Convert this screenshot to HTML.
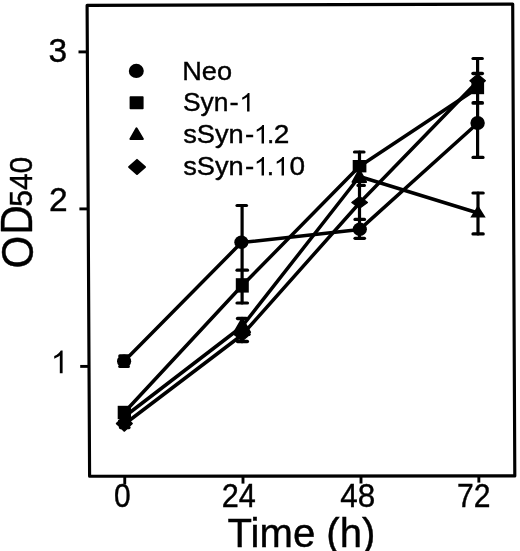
<!DOCTYPE html>
<html><head><meta charset="utf-8">
<style>
html,body{margin:0;padding:0;background:#fff;}
svg{display:block;will-change:transform;}
text{font-family:"Liberation Sans",sans-serif;fill:#000;stroke:#000;stroke-width:0.4px;}
</style></head>
<body>
<svg width="520" height="551" viewBox="0 0 520 551">
<rect width="520" height="551" fill="#fff"/>
<!-- frame -->
<polygon points="87.1,5.4 512.7,4.1 514.8,475.9 89.6,476.2" fill="none" stroke="#000" stroke-width="3.15" stroke-linejoin="round"/>
<!-- ticks -->
<g stroke="#000" stroke-width="2.9">
<line x1="78.5" y1="51.9" x2="87" y2="51.9"/>
<line x1="79.4" y1="208.9" x2="88" y2="208.9"/>
<line x1="80.2" y1="366.4" x2="89" y2="366.4"/>
<line x1="124.75" y1="476" x2="124.75" y2="484.3"/>
<line x1="243" y1="476" x2="243" y2="483.6"/>
<line x1="361" y1="476" x2="361" y2="483.5"/>
<line x1="478.85" y1="476" x2="478.85" y2="482.6"/>
</g>
<!-- tick labels -->
<g font-size="33.5" text-anchor="middle">
<text x="57.7" y="61.8">3</text>
<text x="58.3" y="210.7">2</text>
</g>
<g font-size="33" text-anchor="middle">
<text x="122.4" y="507.4" textLength="16.7" lengthAdjust="spacingAndGlyphs">0</text>
<text x="238.8" y="507.1" textLength="34.1" lengthAdjust="spacingAndGlyphs">24</text>
<text x="357.8" y="506.8" textLength="35" lengthAdjust="spacingAndGlyphs">48</text>
<text x="473.8" y="507" textLength="33.5" lengthAdjust="spacingAndGlyphs">72</text>
</g>
<!-- axis titles -->
<text x="301.5" y="546.8" font-size="41" text-anchor="middle" textLength="147.8" lengthAdjust="spacingAndGlyphs">Time (h)</text>
<text transform="translate(32.6,268.6) rotate(-90) scale(0.96,1)" font-size="44">O</text>
<text transform="translate(32.4,234.6) rotate(-90) scale(0.93,1)" font-size="43.5">D</text>
<text transform="translate(31.5,206.8) rotate(-90) scale(0.985,1)" font-size="30.5">540</text>
<path id="one-y" transform="translate(50.78,373.2) scale(0.01549,-0.01549)" d="M763 0H583V1147Q518 1085 412.500 1023Q307 961 223 930V1104Q374 1175 487 1276Q600 1377 647 1472H763Z"/>
<!-- legend -->
<ellipse cx="136.3" cy="70.9" rx="7.5" ry="7.1"/>
<rect x="129.6" y="96.3" width="14" height="12.9" rx="0.8"/>
<polygon points="136.5,128.3 142.9,138.9 130.4,138.9" stroke="#000" stroke-width="2" stroke-linejoin="round"/>
<polygon points="137,159.9 145,167 137,174 129.1,167" stroke="#000" stroke-width="2" stroke-linejoin="round"/>
<g font-size="26.3">
<text x="182.2" y="79.7" textLength="49.8" lengthAdjust="spacingAndGlyphs">Neo</text>
<text x="182.9" y="111.4" textLength="45.5" lengthAdjust="spacingAndGlyphs">Syn</text>
<text x="229.6" y="111.4" textLength="9.2" lengthAdjust="spacingAndGlyphs">-</text>
<text x="183.2" y="143.4" textLength="60.5" lengthAdjust="spacingAndGlyphs">sSyn</text>
<text x="245.1" y="143.4" textLength="9.2" lengthAdjust="spacingAndGlyphs">-</text>
<text x="267" y="143.4">.</text>
<text x="273.8" y="143.4" textLength="15.6" lengthAdjust="spacingAndGlyphs">2</text>
<text x="183.2" y="175.4" textLength="60.5" lengthAdjust="spacingAndGlyphs">sSyn</text>
<text x="245.1" y="175.4" textLength="9.2" lengthAdjust="spacingAndGlyphs">-</text>
<text x="266.8" y="175.4">.</text>
<text x="289.6" y="175.4" textLength="15.6" lengthAdjust="spacingAndGlyphs">0</text>
</g>
<path transform="translate(239.20,111.4) scale(0.0135,-0.01257)" d="M763 0H583V1147Q518 1085 412.500 1023Q307 961 223 930V1104Q374 1175 487 1276Q600 1377 647 1472H763Z"/>
<path transform="translate(253.70,143.4) scale(0.0135,-0.01257)" d="M763 0H583V1147Q518 1085 412.500 1023Q307 961 223 930V1104Q374 1175 487 1276Q600 1377 647 1472H763Z"/>
<path transform="translate(253.70,175.4) scale(0.0135,-0.01257)" d="M763 0H583V1147Q518 1085 412.500 1023Q307 961 223 930V1104Q374 1175 487 1276Q600 1377 647 1472H763Z"/>
<path transform="translate(273.70,175.4) scale(0.0135,-0.01257)" d="M763 0H583V1147Q518 1085 412.500 1023Q307 961 223 930V1104Q374 1175 487 1276Q600 1377 647 1472H763Z"/>
<!-- series lines -->
<g fill="none" stroke="#000" stroke-width="3.5" stroke-linejoin="round">
<polyline points="124.1,361.2 241.4,242.6 359.8,229.4 477.6,123.3"/>
<polyline points="124,412.7 242.2,285.5 359.3,166.5 478,87.8"/>
<polyline points="124,417 242,326.5 359.5,176.5 478,213"/>
<polyline points="124,424.5 242,335 359.5,203 478,81"/>
</g>
<!-- error bars -->
<g stroke="#000" stroke-width="3.2" stroke-linecap="round">
<!-- x=0 -->
<line x1="119.8" y1="355.9" x2="128.3" y2="355.9"/>
<line x1="119.8" y1="366.5" x2="128.3" y2="366.5"/>
<line x1="119.5" y1="421" x2="129.5" y2="421"/>
<line x1="120.5" y1="427.6" x2="129" y2="427.6"/>
<!-- x=24 -->
<line x1="242.1" y1="205.5" x2="242.1" y2="303"/>
<line x1="237" y1="205.5" x2="246.5" y2="205.5"/>
<line x1="237" y1="270.2" x2="247.5" y2="270.2"/>
<line x1="237" y1="303" x2="247.5" y2="303"/>
<line x1="242" y1="318.3" x2="242" y2="341.7"/>
<line x1="237.6" y1="318.5" x2="246.3" y2="318.5" stroke-width="3.6"/>
<line x1="237.6" y1="341.5" x2="247.3" y2="341.5" stroke-width="3.6"/>
<line x1="236" y1="334.4" x2="249" y2="334.4"/>
<!-- x=48 -->
<line x1="359.5" y1="152" x2="359.5" y2="238.3"/>
<line x1="354.5" y1="152" x2="364" y2="152"/>
<line x1="358" y1="185.4" x2="364.3" y2="185.4"/>
<line x1="355" y1="219.4" x2="364.5" y2="219.4"/>
<line x1="355" y1="238.3" x2="364.5" y2="238.3"/>
<!-- x=72 -->
<line x1="477.6" y1="58.5" x2="477.6" y2="157.4"/>
<line x1="473" y1="58.5" x2="482.3" y2="58.5"/>
<line x1="473" y1="73.6" x2="482.3" y2="73.6" stroke-width="3.5"/>
<line x1="473.3" y1="102.9" x2="482.2" y2="102.9" stroke-width="3.8"/>
<line x1="473" y1="157.4" x2="483" y2="157.4"/>
<line x1="478" y1="193" x2="478" y2="233.9"/>
<line x1="473" y1="193" x2="483.2" y2="193"/>
<line x1="473" y1="233.9" x2="483.2" y2="233.9"/>
</g>
<!-- markers -->
<!-- Neo circles -->
<ellipse cx="124.1" cy="361.2" rx="7.1" ry="6.8"/>
<ellipse cx="241.4" cy="242.2" rx="7.1" ry="6.8"/>
<ellipse cx="359.8" cy="229.2" rx="7.1" ry="6.8"/>
<ellipse cx="477.6" cy="123" rx="7.2" ry="7"/>
<!-- Syn-1 squares -->
<rect x="117.7" y="405.8" width="13.3" height="13.4"/>
<rect x="235.8" y="278.2" width="13" height="14.4"/>
<rect x="352.7" y="160" width="13.7" height="12.4"/>
<rect x="471.4" y="81.4" width="12.7" height="12.8"/>
<!-- triangles -->
<polygon points="124,412 132,425 116.5,425"/>
<polygon points="242.2,318.8 250,332.3 234.4,332.3" stroke="#000" stroke-width="2.2" stroke-linejoin="round"/>
<polygon points="359.3,170 366,182 352.6,182" stroke="#000" stroke-width="2.2" stroke-linejoin="round"/>
<polygon points="478,205.3 485.7,217.4 470.3,217.4"/>
<!-- diamonds -->
<g stroke="#000" stroke-width="1.2" stroke-linejoin="round">
<polygon points="124.3,416 132.3,423.5 124.3,431.2 116.4,423.5"/>
<polygon points="242,327.3 250,334.2 242,341 234,334.2"/>
<polygon points="359.6,196.5 367.5,202.4 359.6,208.3 351.8,202.4"/>
<polygon points="477.7,74.2 485.4,80.8 477.7,87 469.9,80.8"/>
</g>
</svg>
</body></html>
